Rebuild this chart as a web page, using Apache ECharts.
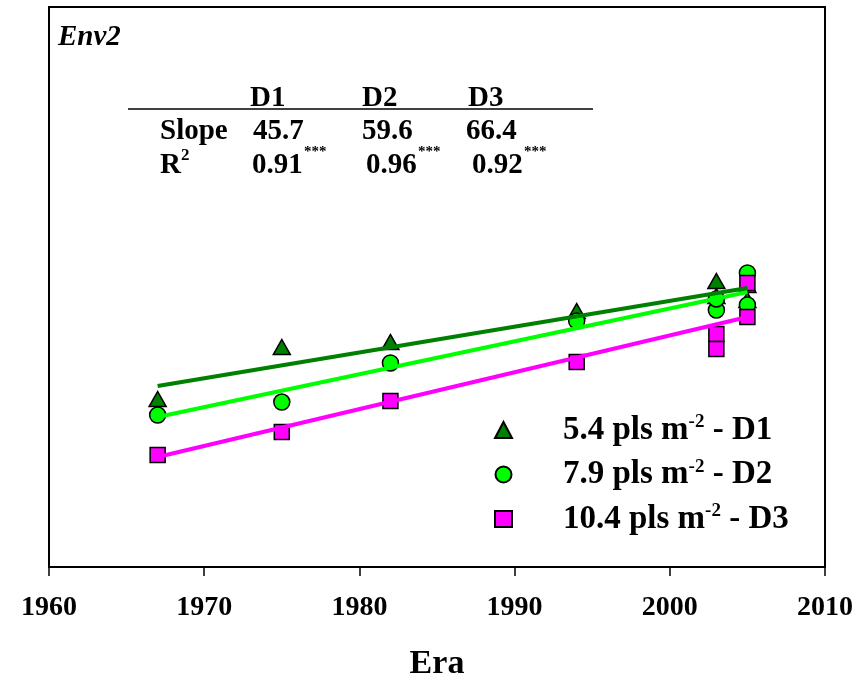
<!DOCTYPE html>
<html><head><meta charset="utf-8">
<script src="https://cdn.jsdelivr.net/npm/echarts@6/dist/echarts.min.js"></script>
<style>html,body{margin:0;padding:0;background:#fff}#c{width:866px;height:682px}</style>
</head><body><div id="c"></div>
<script>
// ---- data ----
const years = [1967, 1975, 1982, 1994, 2003, 2003, 2005, 2005];
const d1 = [3000, 3929, 4018, 4571, 5107, 4839, 5036, 4768];
const d2 = [2714, 2946, 3643, 4393, 4589, 4786, 5250, 4679];
const d3 = [2000, 2411, 2964, 3661, 4161, 3893, 5071, 4464];
const fitYears = [1967, 2005];
const fit1 = [3232, 4982];
const fit2 = [2679, 4911];
const fit3 = [1964, 4464];
const seriesNames = ['5.4 pls m-2 - D1', '7.9 pls m-2 - D2', '10.4 pls m-2 - D3'];
const tableHeads = ['D1', 'D2', 'D3'];
const slopes = ['45.7', '59.6', '66.4'];
const r2 = ['0.91', '0.96', '0.92'];
const sig = '***';
const xTicks = [1960, 1970, 1980, 1990, 2000, 2010];

const FONT = '"Liberation Serif","Times New Roman",serif';
const colors = ['#008000', '#00FF00', '#FF00FF'];
const symbols = ['triangle', 'circle', 'rect'];
const symSizes = [[17, 15], 16, 15];
const pts = (ys) => years.map((x, i) => [x, ys[i]]);
const fit = (ys) => fitYears.map((x, i) => [x, ys[i]]);

const chart = echarts.init(document.getElementById('c'));

const scatter = [d1, d2, d3].map((d, i) => ({
  name: seriesNames[i], type: 'scatter', data: pts(d), symbol: symbols[i], symbolSize: symSizes[i],
  itemStyle: { color: colors[i], borderColor: '#000', borderWidth: 1.5, opacity: 1 }, z: 2
}));
const lines = [fit1, fit2, fit3].map((d, i) => ({
  name: 'fit' + (i + 1), type: 'line', data: fit(d), symbol: 'none',
  lineStyle: { color: colors[i], width: 4 }, z: 3, silent: true
}));

// table graphics
const colX = [250, 362, 468];
const valX = [253, 362, 466];
const rX = [252, 366, 472];
const tf = (t, x, y, size) => ({
  type: 'text', left: x, top: y, style: { text: t, font: 'bold ' + size + 'px ' + FONT, fill: '#000' }
});
const graphics = [];
graphics.push({ type: 'text', left: 58, top: 23, style: { text: 'Env2', font: 'italic bold 29px ' + FONT, fill: '#000' } });
tableHeads.forEach((t, i) => graphics.push(tf(t, colX[i], 84, 29)));
graphics.push({ type: 'line', shape: { x1: 128, y1: 109, x2: 593, y2: 109 }, style: { stroke: '#000', lineWidth: 1.5 } });
graphics.push(tf('Slope', 160, 117, 29));
slopes.forEach((t, i) => graphics.push(tf(t, valX[i], 117, 29)));
graphics.push(tf('R', 160, 151, 29));
graphics.push(tf('2', 181, 147, 17));
r2.forEach((t, i) => {
  graphics.push(tf(t, rX[i], 151, 29));
  graphics.push({ type: 'text', left: rX[i] + 52, top: 145, style: { text: sig, font: 'bold 15px ' + FONT, fill: '#000' } });
});

chart.setOption({
  animation: false,
  backgroundColor: '#fff',
  grid: { left: 49, right: 41, top: 7, bottom: 115, show: true, borderColor: '#000', borderWidth: 2,
    backgroundColor: 'transparent', containLabel: false, outerBoundsMode: 'none' },
  xAxis: {
    type: 'value', min: 1960, max: 2010, interval: 10,
    name: 'Era', nameLocation: 'middle', nameGap: 80,
    nameTextStyle: { fontFamily: FONT, fontWeight: 'bold', fontSize: 34, color: '#000' },
    axisLine: { show: true, lineStyle: { color: '#000', width: 2 } },
    axisTick: { show: true, inside: false, length: 9, lineStyle: { color: '#000', width: 1.5 } },
    splitLine: { show: false },
    axisLabel: { fontFamily: FONT, fontWeight: 'bold', fontSize: 28, color: '#000', margin: 27,
      formatter: (v) => xTicks.includes(v) ? String(v) : '' }
  },
  yAxis: { type: 'value', min: 0, max: 10000, show: false, splitLine: { show: false } },
  legend: {
    data: seriesNames, orient: 'vertical', left: 489, top: 408, itemWidth: 17, itemHeight: 16, itemGap: 11,
    textStyle: { fontFamily: FONT, fontWeight: 'bold', fontSize: 33, color: '#000',
      rich: {
        g: { width: 46 },
        t: { fontFamily: FONT, fontWeight: 'bold', fontSize: 33, lineHeight: 34, color: '#000' },
        s: { fontFamily: FONT, fontWeight: 'bold', fontSize: 19, lineHeight: 19, verticalAlign: 'top', color: '#000' }
      } },
    formatter: (name) => {
      const parts = name.split('-2');
      return '{g|}{t|' + parts[0] + '}{s|-2}{t|' + parts[1] + '}';
    }
  },
  graphic: graphics,
  series: [...scatter, ...lines]
});
</script></body></html>
